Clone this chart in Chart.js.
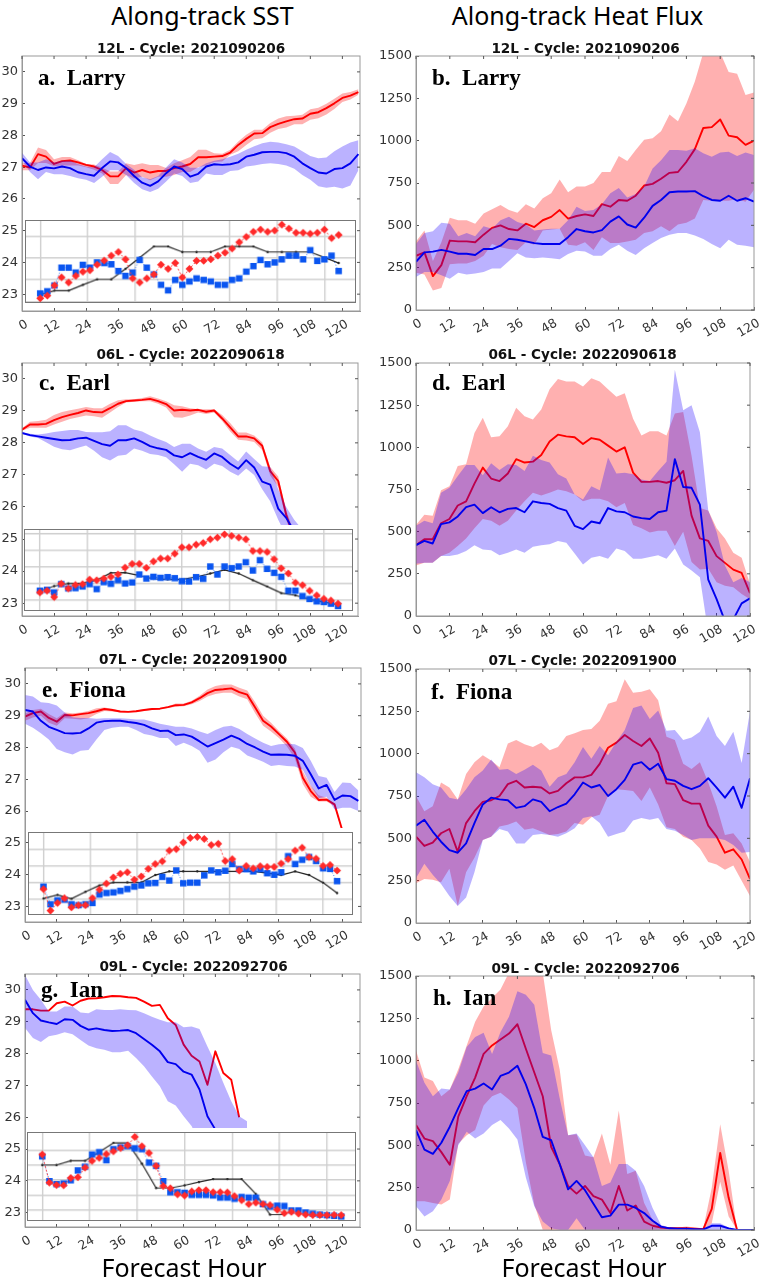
<!DOCTYPE html>
<html>
<head>
<meta charset="utf-8">
<title>Along-track SST and Heat Flux</title>
<script src="https://cdn.jsdelivr.net/npm/chart.js@4/dist/chart.umd.min.js"></script>
<style>
  html, body { margin: 0; padding: 0; background: #fff; }
  #page { position: relative; width: 761px; height: 1280px; overflow: hidden; }
  canvas { position: absolute; }
  .inset { border: 1.5px solid #777; background: #fff; box-shadow: 0 -4px 0 0 #fff; }
  .txt { position: absolute; white-space: pre; color: #000; z-index: 5; }
  .head { font: 25px "Noto Sans"; transform: translate(-50%, -50%); }
  .title { font: bold 13.6px "DejaVu Sans"; color: #111; transform: translate(-50%, -50%); }
  .name { font: bold 23px "Liberation Serif"; transform: translateY(-50%); }
</style>
</head>
<body>
<div id="page"></div>
<script>
const hoursMain = [0,3,6,9,12,15,18,21,24,27,30,33,36,39,42,45,48,51,54,57,60,63,66,69,72,75,78,81,84,87,90,93,96,99,102,105,108,111,114,117,120,123,126];
const hoursBlack = [0,6,12,18,24,30,36,42,48,54,60,66,72,78,84,90,96,102,108,114,120,126];

// a. Larry SST
const aRed = [27.05,26.99,27.41,27.33,27.10,27.19,27.21,27.15,27.07,27.02,26.91,26.71,26.71,26.97,26.83,26.91,26.83,26.88,26.88,26.97,27.02,27.10,27.31,27.31,27.33,27.35,27.46,27.70,27.89,28.06,28.07,28.26,28.36,28.44,28.51,28.53,28.68,28.73,28.86,29.01,29.18,29.25,29.36];
const aRedHi = [27.13,27.13,27.62,27.54,27.25,27.32,27.32,27.22,27.10,27.08,26.99,26.86,26.86,27.12,27.07,27.12,27.07,27.07,26.97,27.12,27.22,27.32,27.55,27.55,27.44,27.42,27.55,27.81,28.02,28.18,28.18,28.39,28.53,28.60,28.62,28.65,28.82,28.87,29.00,29.15,29.32,29.37,29.45];
const aRedLo = [26.90,26.90,27.13,27.13,27.03,27.05,27.05,27.05,27.00,26.92,26.80,26.47,26.47,26.75,26.64,26.70,26.59,26.70,26.70,26.75,26.85,26.85,27.00,27.05,27.16,27.18,27.39,27.50,27.70,27.88,27.91,28.08,28.20,28.25,28.35,28.35,28.49,28.54,28.66,28.83,29.05,29.13,29.28];
const aBlue = [27.28,27.02,26.91,26.99,26.96,27.02,26.97,26.84,26.78,26.73,26.97,27.18,27.15,26.97,26.72,26.51,26.41,26.55,26.81,27.02,26.94,26.70,26.79,27.02,27.09,27.07,27.09,27.15,27.33,27.39,27.47,27.48,27.48,27.44,27.33,27.12,26.97,26.83,26.80,26.94,26.97,27.12,27.41];
const aBlueHi = [27.45,27.15,27.15,27.25,27.15,27.20,27.20,27.10,27.02,27.00,27.25,27.48,27.35,27.10,26.92,26.68,26.62,26.72,27.00,27.25,27.15,26.98,26.98,27.12,27.20,27.25,27.33,27.42,27.55,27.66,27.75,27.80,27.78,27.72,27.65,27.50,27.35,27.28,27.30,27.50,27.65,27.78,27.85];
const aBlueLo = [27.20,26.85,26.62,26.85,26.78,26.78,26.72,26.65,26.60,26.50,26.70,26.90,26.90,26.75,26.50,26.30,26.22,26.32,26.55,26.80,26.72,26.50,26.55,26.80,26.75,26.75,26.88,26.90,27.02,27.05,27.10,27.12,27.10,27.05,26.95,26.75,26.60,26.40,26.35,26.38,26.33,26.42,26.90];
const aInRed = [22.84,22.93,23.26,23.52,23.36,23.57,23.71,23.75,23.94,24.07,24.23,24.35,24.11,23.49,23.36,23.49,23.62,23.94,23.80,23.99,23.52,23.80,24.06,24.06,24.11,24.23,24.33,24.46,24.67,24.84,25.01,25.08,25.01,25.05,25.24,25.11,24.98,24.98,24.95,24.98,25.08,24.80,24.91];
const aInBlue = [23.00,23.07,23.26,23.84,23.84,23.68,23.93,23.84,24.01,23.99,23.95,23.73,23.57,23.68,24.09,23.84,23.62,23.28,23.10,23.44,23.28,23.39,23.49,23.44,23.39,23.28,23.28,23.44,23.49,23.71,23.89,24.09,23.95,24.01,24.11,24.23,24.23,24.11,24.41,24.06,24.11,24.23,23.73];
const aInBlack = [22.95,23.09,23.09,23.28,23.46,23.46,23.80,24.17,24.53,24.53,24.35,24.35,24.35,24.53,24.53,24.53,24.35,24.35,24.35,24.35,24.17,23.99];

// b. Larry flux
const bRed = [320,340,200,265,410,405,405,400,445,485,500,478,470,510,490,530,550,590,540,555,565,555,625,610,650,645,675,735,745,775,810,815,875,950,1075,1080,1125,1030,1020,975,1000];
const bRedHi = [405,470,290,400,545,530,530,510,570,595,620,590,575,625,600,660,690,770,695,730,730,750,815,815,910,880,945,1005,1015,1055,1155,1115,1220,1350,1520,1520,1520,1405,1395,1270,1285];
const bRedLo = [220,210,115,130,270,275,275,290,320,390,370,360,355,400,385,470,475,480,385,380,400,355,430,395,395,405,415,455,465,495,465,505,515,540,650,645,645,645,655,640,710];
const bBlue = [285,340,345,355,345,332,332,325,360,360,380,420,415,405,395,390,390,390,430,478,465,458,472,522,553,505,487,545,615,650,695,700,700,702,672,650,645,675,645,660,640];
const bBlueHi = [390,455,465,515,510,435,455,435,495,480,530,550,520,505,470,475,480,480,530,610,585,590,625,690,720,665,685,730,835,885,945,945,940,955,925,905,930,935,910,930,915];
const bBlueLo = [195,225,225,205,185,220,210,215,225,245,245,290,335,310,305,310,305,300,330,350,345,320,320,360,385,350,325,365,395,425,445,455,455,440,420,390,365,415,385,380,370];

// c. Earl SST
const cRed = [28.41,28.57,28.57,28.59,28.71,28.80,28.87,28.93,29.01,28.96,28.95,29.08,29.22,29.30,29.32,29.34,29.37,29.30,29.21,29.01,29.03,29.01,29.03,28.97,29.01,28.76,28.48,28.20,28.20,28.14,27.91,27.12,26.81,25.76,25.00,24.20];
const cRedHi = [28.45,28.66,28.68,28.72,28.87,28.96,29.02,29.06,29.12,29.08,29.08,29.22,29.33,29.36,29.36,29.40,29.45,29.38,29.30,29.17,29.14,29.08,29.05,29.05,29.05,28.87,28.62,28.32,28.32,28.23,28.02,27.25,26.95,25.90,25.20,24.40];
const cRedLo = [28.38,28.47,28.47,28.47,28.57,28.66,28.74,28.80,28.85,28.83,28.78,28.95,29.12,29.26,29.28,29.30,29.30,29.22,29.10,28.80,28.78,28.85,28.95,28.90,28.95,28.68,28.35,28.10,28.07,28.03,27.78,26.98,26.62,25.60,24.90,24.00];
const cBlue = [28.31,28.24,28.20,28.16,28.12,28.08,28.09,28.14,28.16,28.06,27.96,27.91,28.08,28.08,28.14,28.03,27.90,27.83,27.78,27.61,27.55,27.68,27.56,27.47,27.67,27.56,27.35,27.19,27.46,27.23,26.79,26.70,25.95,25.66,25.24,24.60];
const cBlueHi = [28.33,28.28,28.26,28.29,28.34,28.37,28.40,28.40,28.34,28.33,28.33,28.36,28.55,28.55,28.42,28.35,28.23,28.12,28.03,27.87,27.97,27.97,27.82,27.72,27.87,27.82,27.62,27.42,27.73,27.50,27.27,27.25,26.55,26.00,25.60,25.30];
const cBlueLo = [28.28,28.20,28.15,28.02,27.88,27.80,27.77,27.85,27.92,27.75,27.55,27.45,27.60,27.63,27.82,27.75,27.65,27.62,27.55,27.33,27.10,27.35,27.30,27.17,27.35,27.28,27.10,26.97,27.20,27.00,26.55,26.18,25.60,25.10,24.80,24.50];
const cInRed = [23.24,23.29,23.10,23.50,23.36,23.47,23.49,23.63,23.61,23.66,23.71,23.78,23.99,24.10,24.10,23.98,24.17,24.26,24.26,24.41,24.60,24.60,24.68,24.73,24.84,24.89,24.99,24.94,24.89,24.84,24.49,24.49,24.46,24.24,23.97,23.81,23.53,23.46,23.29,23.15,23.05,23.00,22.90];
const cInBlue = [23.29,23.32,23.24,23.49,23.36,23.37,23.42,23.49,23.34,23.55,23.50,23.61,23.51,23.54,23.78,23.66,23.71,23.68,23.70,23.67,23.58,23.57,23.70,23.65,24.02,23.78,24.02,23.97,24.02,24.15,23.90,24.21,23.95,23.83,23.71,23.29,23.29,23.13,23.04,22.97,22.95,22.90,22.83];
const cInBlack = [23.29,23.43,23.51,23.52,23.61,23.83,23.84,23.75,23.65,23.63,23.63,23.71,23.81,23.92,23.81,23.61,23.42,23.22,23.15,23.03,22.95,22.87];

// d. Earl flux
const dRed = [420,455,455,550,575,655,680,785,880,815,800,845,930,910,915,955,1035,1075,1065,1060,1020,1055,1045,1010,975,1000,850,795,795,800,790,805,860,595,460,445,355,315,275,255,135];
const dRedHi = [540,600,595,745,770,890,900,1085,1175,1060,1065,1125,1235,1185,1165,1225,1345,1405,1390,1390,1360,1410,1390,1345,1300,1320,1170,1070,1095,1095,1070,1200,1210,950,640,625,520,460,375,345,190];
const dRedLo = [300,315,315,355,375,415,460,520,575,565,535,565,625,680,730,715,730,750,740,720,680,695,695,680,645,670,540,520,495,505,505,415,500,320,275,280,200,180,170,130,100];
const dBlue = [420,445,430,545,555,590,645,660,610,645,615,635,640,615,680,670,665,640,625,535,515,560,550,640,620,615,590,580,575,615,625,930,765,760,660,215,100,-30,-20,75,105];
const dBlueHi = [535,565,550,730,760,830,895,895,835,905,865,900,895,860,950,925,910,840,815,720,690,770,745,940,845,850,840,810,800,860,915,1460,1220,1250,1090,625,500,300,200,225,200];
const dBlueLo = [310,315,315,355,355,365,385,420,395,390,360,375,395,375,410,420,425,445,435,370,305,345,355,340,400,385,340,340,350,360,340,400,305,270,230,-100,-100,-100,-100,-100,-100];

// e. Fiona SST
const eRed = [28.97,29.08,29.13,28.93,28.81,29.02,29.01,29.05,29.08,29.14,29.21,29.18,29.13,29.12,29.14,29.18,29.21,29.22,29.27,29.33,29.34,29.42,29.55,29.71,29.81,29.83,29.86,29.74,29.66,29.26,28.84,28.66,28.42,28.18,27.84,27.05,26.63,26.35,26.36,26.21,25.37];
const eRedHi = [29.07,29.18,29.22,29.05,28.92,29.10,29.08,29.10,29.15,29.23,29.26,29.22,29.15,29.14,29.16,29.20,29.23,29.24,29.30,29.38,29.38,29.47,29.63,29.82,29.93,29.98,29.98,29.88,29.79,29.42,29.00,28.78,28.52,28.28,27.97,27.25,26.80,26.50,26.42,26.24,25.40];
const eRedLo = [28.84,28.94,29.00,28.78,28.68,28.92,28.90,28.88,28.92,29.05,29.15,29.13,29.10,29.10,29.12,29.15,29.18,29.20,29.24,29.28,29.30,29.36,29.46,29.60,29.68,29.72,29.72,29.60,29.52,29.08,28.68,28.50,28.30,28.03,27.65,26.85,26.45,26.30,26.30,26.15,25.30];
const eBlue = [29.18,29.13,28.84,28.65,28.55,28.45,28.44,28.46,28.60,28.78,28.83,28.84,28.84,28.80,28.77,28.71,28.60,28.52,28.53,28.39,28.41,28.34,28.19,28.03,28.14,28.25,28.37,28.27,28.11,28.00,27.87,27.77,27.78,27.77,27.74,27.58,27.16,26.71,26.82,26.35,26.49,26.47,26.32];
const eBlueHi = [29.65,29.60,29.42,29.40,29.32,29.10,28.95,28.93,28.93,28.90,28.92,28.92,28.92,28.90,28.88,28.88,28.82,28.75,28.70,28.65,28.65,28.60,28.50,28.42,28.55,28.65,28.68,28.58,28.42,28.28,28.15,28.05,28.10,28.12,28.10,27.98,27.58,27.10,27.05,26.60,26.90,26.88,26.65];
const eBlueLo = [28.75,28.62,28.45,28.25,27.95,27.85,27.78,27.90,27.92,28.25,28.55,28.62,28.65,28.65,28.55,28.42,28.38,28.30,28.30,28.05,28.15,28.05,27.90,27.52,27.62,27.85,28.02,27.95,27.75,27.65,27.55,27.42,27.45,27.42,27.40,27.30,26.80,26.40,26.45,26.05,26.10,26.10,26.00];
const eInRed = [23.53,22.82,23.07,23.23,22.93,23.00,23.00,23.23,23.51,23.71,23.91,24.03,24.08,23.84,23.94,24.19,24.35,24.44,24.79,24.84,25.06,25.21,25.24,25.18,24.98,25.02,24.45,24.51,24.14,24.29,24.21,24.28,24.26,24.26,24.37,24.51,24.79,24.89,24.58,24.53,24.29,24.32,24.14];
const eInBlue = [23.61,23.03,23.16,23.18,23.03,23.00,23.03,23.07,23.35,23.40,23.42,23.47,23.53,23.61,23.65,23.72,23.73,23.93,23.81,24.14,23.72,23.74,23.74,23.98,24.14,24.08,24.13,24.35,24.18,24.18,24.11,24.18,24.05,24.00,24.08,24.61,24.35,24.49,24.58,24.45,24.21,24.19,23.79];
const eInBlack = [23.22,23.34,23.21,23.44,23.65,23.75,23.75,23.75,23.99,24.11,24.11,24.11,24.11,24.11,24.11,24.11,24.05,23.99,24.11,23.99,23.74,23.40];

// f. Fiona flux
const fRed = [510,455,475,530,555,420,590,660,715,725,750,820,840,800,805,800,765,780,825,860,860,875,940,1035,1065,1110,1075,1045,1090,1005,825,820,725,705,705,575,510,415,435,375,260];
const fRedHi = [750,660,690,830,800,730,880,950,990,960,920,1060,1080,1055,1040,1065,1020,1040,1105,1120,1140,1145,1195,1295,1310,1440,1360,1365,1380,1315,1100,1080,940,910,950,830,690,520,530,470,360];
const fRedLo = [235,260,255,240,320,100,300,385,490,510,570,580,600,550,560,540,520,525,540,590,580,625,640,750,790,785,780,720,800,700,565,555,510,490,440,360,345,315,340,250,160];
const fBlue = [575,610,540,480,430,415,470,590,700,740,730,725,680,690,730,715,660,685,705,760,830,800,815,750,790,845,935,950,905,940,850,840,810,790,810,855,800,740,805,680,855];
const fBlueHi = [890,860,820,800,740,730,790,860,900,965,905,910,880,905,935,900,805,860,880,950,1040,970,1045,990,1070,1140,1270,1285,1205,1255,1135,1140,1080,1095,1130,1220,1105,1045,1130,945,1250];
const fBlueLo = [265,350,285,230,160,100,150,300,490,510,555,540,470,470,520,525,520,510,530,560,620,630,590,510,525,540,605,620,610,620,555,545,520,490,500,500,500,490,460,415,420];

// g. Ian SST
const gRed = [29.39,29.39,29.35,29.35,29.58,29.63,29.51,29.66,29.73,29.74,29.77,29.81,29.80,29.77,29.75,29.63,29.50,29.53,29.11,28.90,28.28,27.93,27.75,27.02,28.07,27.39,27.18,26.00];
const gBlue = [29.69,29.27,29.04,28.98,28.93,29.08,29.06,28.87,28.75,28.79,28.74,28.71,28.72,28.74,28.64,28.46,28.28,28.07,27.73,27.67,27.43,27.34,26.87,26.03,25.61,25.00];
const gBlueHi = [30.47,30.00,29.69,29.32,29.32,29.48,29.48,29.29,29.27,29.39,29.37,29.37,29.39,29.37,29.36,29.27,29.16,29.06,28.98,28.98,28.83,28.85,28.77,28.22,27.70,27.08,26.50,26.03,25.87];
const gBlueLo = [28.80,28.49,28.36,28.54,28.59,28.67,28.61,28.43,28.25,28.17,28.12,28.04,28.04,28.09,27.86,27.60,27.28,26.97,26.50,26.37,26.03,25.72,25.20,24.50,24.20,24.00,23.60,23.30,23.00];
const gInRed = [24.85,23.91,23.83,23.82,24.07,24.09,24.41,24.64,24.74,24.87,24.96,25.06,25.16,25.44,25.13,24.90,24.47,23.80,23.72,23.52,23.48,23.62,23.66,23.66,23.59,23.59,23.58,23.46,23.32,23.19,23.24,23.19,23.16,23.00,22.89,22.93,22.87,22.84,22.82,22.82,22.82,22.83,22.82];
const gInBlue = [24.79,23.96,23.86,23.88,23.99,24.32,24.44,24.85,24.93,24.66,25.03,25.09,25.13,25.06,25.03,24.58,24.47,23.96,23.59,23.59,23.57,23.50,23.50,23.50,23.48,23.41,23.41,23.37,23.43,23.41,23.41,23.19,23.11,23.14,23.13,22.98,22.98,22.91,22.87,22.84,22.82,22.80,22.78];
const gInBlack = [24.50,24.50,24.64,24.64,24.93,25.24,25.24,24.55,23.73,23.73,23.82,23.93,24.03,24.03,24.03,23.53,22.84,22.84];

// h. Ian flux
const hRed = [620,540,525,460,385,670,790,900,1040,1090,1125,1160,1215,1070,930,790,490,390,260,215,260,200,180,100,260,115,145,50,25,15,10,10,10,8,5,125,455,190,0,0,0];
const hRedHi = [1060,900,880,790,830,950,1090,1230,1320,1370,1420,1520,1520,1520,1520,1520,1180,950,560,565,440,430,570,385,705,330,350,160,60,25,15,15,20,15,10,250,625,350,0,0,0];
const hRedLo = [170,170,160,150,180,510,560,590,735,790,810,770,720,400,150,0,-20,0,0,0,0,0,0,0,0,0,0,0,0,0,0,0,0,0,0,40,285,80,0,0,0];
const hBlue = [590,475,450,515,610,720,820,835,865,830,910,930,970,860,720,550,530,390,240,290,235,155,75,85,150,150,130,100,55,20,10,8,8,5,3,25,25,10,0,0,0];
const hBlueHi = [1000,870,790,835,830,930,1080,1140,1165,1040,1170,1260,1410,1390,1330,1045,1030,780,560,570,500,430,260,280,390,390,350,260,130,30,15,10,10,5,5,40,40,15,0,0,0];
const hBlueLo = [140,80,110,180,290,500,580,540,570,620,650,600,535,310,140,50,10,0,0,70,0,0,0,0,0,0,0,0,0,0,0,0,0,0,0,0,0,0,0,0,0];

const insetGridHours = [0,20,40,60,80,100,120];
const aInGrid = [24.87,24.17,23.45,22.74];
const cInGrid = [25,24.5,24,23.5,23];
const eInGrid = [24.84,24.29,23.75,23.21];
const gInGrid = [25,24.5,24,23.5,23];

Chart.defaults.font.family = '"DejaVu Sans"';
Chart.defaults.animation = false;

const page = document.getElementById('page');
const LABEL_W_SST = 22, LABEL_W_FLUX = 36, PAD_TOP = 10, PAD_RIGHT = 12, LABEL_H = 32;

function addCanvas(left, top, w, h, cls) {
    const c = document.createElement('canvas');
    c.width = w; c.height = h;
    c.style.left = left + 'px';
    c.style.top = top + 'px';
    if (cls) c.className = cls;
    page.appendChild(c);
    return c;
}

function addText(cls, text, x, y) {
    const d = document.createElement('div');
    d.className = 'txt ' + cls;
    d.textContent = text;
    d.style.left = x + 'px';
    d.style.top = y + 'px';
    page.appendChild(d);
}

const xy = (ys, xs) => ys.map((y, i) => ({ x: xs[i], y }));

// frame on top/right plus the little ticks there
const framePlugin = {
    id: 'frame',
    afterDraw(chart) {
        const { ctx, chartArea: a, scales } = chart;
        ctx.save();
        ctx.strokeStyle = '#999';
        ctx.lineWidth = 1;
        ctx.strokeRect(a.left, a.top, a.right - a.left, a.bottom - a.top);
        ctx.strokeStyle = '#555';
        ctx.beginPath();
        scales.x.ticks.forEach(t => {
            const p = scales.x.getPixelForValue(t.value);
            ctx.moveTo(p, a.top); ctx.lineTo(p, a.top + 3);
        });
        scales.y.ticks.forEach(t => {
            const p = scales.y.getPixelForValue(t.value);
            ctx.moveTo(a.right, p); ctx.lineTo(a.right - 3, p);
        });
        ctx.stroke();
        ctx.restore();
    }
};

// lineWidth 0 is ignored by canvas, so the edge has to be transparent too
function bandSets(hi, lo, color, order) {
    const edge = { borderWidth: 0, borderColor: 'transparent', pointRadius: 0, order };
    return [
        { data: xy(hi, hoursMain), ...edge, fill: '+1', backgroundColor: color },
        { data: xy(lo, hoursMain), ...edge, fill: false }
    ];
}

function lineSet(vals, color, order) {
    return { data: xy(vals, hoursMain), borderColor: color, borderWidth: 1.9, pointRadius: 0, fill: false, order, borderJoinStyle: 'round' };
}

function mainChart(p, s) {
    const labelW = p.flux ? LABEL_W_FLUX : LABEL_W_SST;
    const w = p.right - p.left, h = p.bottom - p.top;
    const canvas = addCanvas(p.left - labelW, p.top - PAD_TOP, labelW + w + PAD_RIGHT, PAD_TOP + h + LABEL_H);
    const datasets = [];
    if (s.redHi) datasets.push(...bandSets(s.redHi, s.redLo, 'rgba(255,0,0,0.31)', 3));
    datasets.push(lineSet(s.red, '#ff0000', 2));
    datasets.push(...bandSets(s.blueHi, s.blueLo, 'rgba(30,0,255,0.3)', 1));
    datasets.push(lineSet(s.blue, '#0000ee', 0));
    new Chart(canvas, {
        type: 'line',
        data: { datasets },
        plugins: [framePlugin],
        options: {
            responsive: false,
            layout: { autoPadding: false, padding: { top: PAD_TOP, right: PAD_RIGHT, left: 0, bottom: 0 } },
            plugins: { legend: { display: false }, tooltip: { enabled: false } },
            scales: {
                x: {
                    type: 'linear', min: 0, max: p.xMax,
                    grid: { drawOnChartArea: false, tickLength: -3, color: '#555' },
                    border: { color: '#999' },
                    ticks: { stepSize: 12, includeBounds: false, autoSkip: false, minRotation: 30, maxRotation: 30, padding: 9, labelOffset: 5, font: { size: 12.5 }, color: '#333', callback: v => String(v) },
                    afterFit(a) { a.height = LABEL_H; a.paddingLeft = 0; a.paddingRight = 0; }
                },
                y: {
                    min: p.yMin, max: p.yMax,
                    grid: { drawOnChartArea: false, tickLength: -3, color: '#555' },
                    border: { color: '#999' },
                    ticks: { stepSize: p.flux ? 250 : 1, includeBounds: false, padding: 7, font: { size: 13 }, color: '#333', callback: v => String(v) },
                    afterFit(a) { a.width = labelW; a.paddingTop = 0; a.paddingBottom = 0; }
                }
            }
        }
    });
}

function insetChart(b, s) {
    const canvas = addCanvas(b.left, b.top, b.right - b.left, b.bottom - b.top, 'inset');
    const dotted = { borderWidth: 1, fill: false };
    new Chart(canvas, {
        type: 'line',
        data: {
            datasets: [
                { data: xy(s.red, hoursMain), ...dotted, borderColor: '#ff3b3b', borderDash: [2, 2], pointStyle: 'rectRot', pointRadius: 4, pointBackgroundColor: '#ff2a2a', pointBorderWidth: 0, order: 0 },
                { data: xy(s.blue, hoursMain), ...dotted, borderColor: '#3a78f0', borderDash: [1, 2], pointStyle: 'rect', pointRadius: 4.6, pointBackgroundColor: '#0a55f0', pointBorderWidth: 0, order: 1 },
                { data: xy(s.black, hoursBlack), borderColor: '#222', borderWidth: 1.2, fill: false, pointRadius: 1.2, pointBackgroundColor: '#222', pointBorderWidth: 0, order: 2 }
            ]
        },
        options: {
            responsive: false,
            layout: { autoPadding: false, padding: 0 },
            plugins: { legend: { display: false }, tooltip: { enabled: false } },
            scales: {
                x: {
                    type: 'linear', min: b.xMin, max: b.xMax,
                    grid: { color: '#cfcfcf', lineWidth: 1.4, drawTicks: false },
                    border: { display: false },
                    ticks: { display: false },
                    afterBuildTicks(a) { a.ticks = insetGridHours.map(value => ({ value })); },
                    afterFit(a) { a.height = 0; a.paddingLeft = 0; a.paddingRight = 0; }
                },
                y: {
                    min: b.yMin, max: b.yMax,
                    grid: { color: '#cfcfcf', lineWidth: 1.4, drawTicks: false },
                    border: { display: false },
                    ticks: { display: false },
                    afterBuildTicks(a) { a.ticks = s.grid.map(value => ({ value })); },
                    afterFit(a) { a.width = 0; a.paddingTop = 0; a.paddingBottom = 0; }
                }
            }
        }
    });
}

// a
mainChart({ left: 22.3, right: 361, top: 56, bottom: 311, xMax: 126.6, yMin: 22.47, yMax: 30.5 },
    { red: aRed, redHi: aRedHi, redLo: aRedLo, blue: aBlue, blueHi: aBlueHi, blueLo: aBlueLo });
insetChart({ left: 25, right: 356, top: 219.5, bottom: 303, xMin: -6, xMax: 132.9, yMin: 22.72, yMax: 25.36 },
    { red: aInRed, blue: aInBlue, black: aInBlack, grid: aInGrid });
// b
mainChart({ flux: true, left: 415.7, right: 754, top: 55.7, bottom: 310, xMax: 120, yMin: 0, yMax: 1500 },
    { red: bRed, redHi: bRedHi, redLo: bRedLo, blue: bBlue, blueHi: bBlueHi, blueLo: bBlueLo });
// c
mainChart({ left: 22.3, right: 359, top: 362.7, bottom: 616, xMax: 125.9, yMin: 22.6, yMax: 30.49 },
    { red: cRed, redHi: cRedHi, redLo: cRedLo, blue: cBlue, blueHi: cBlueHi, blueLo: cBlueLo });
insetChart({ left: 24, right: 353, top: 529, bottom: 611, xMin: -6.3, xMax: 131.9, yMin: 22.71, yMax: 25.12 },
    { red: cInRed, blue: cInBlue, black: cInBlack, grid: cInGrid });
// d
mainChart({ flux: true, left: 415.7, right: 750, top: 363.3, bottom: 617.3, xMax: 120, yMin: 0, yMax: 1500 },
    { red: dRed, redHi: dRedHi, redLo: dRedLo, blue: dBlue, blueHi: dBlueHi, blueLo: dBlueLo });
// e
mainChart({ left: 25, right: 361.7, top: 667.7, bottom: 921.7, xMax: 127, yMin: 22.51, yMax: 30.5 },
    { red: eRed, redHi: eRedHi, redLo: eRedLo, blue: eBlue, blueHi: eBlueHi, blueLo: eBlueLo });
insetChart({ left: 28.3, right: 354, top: 831.7, bottom: 915, xMin: -6.2, xMax: 132.4, yMin: 22.71, yMax: 25.37 },
    { red: eInRed, blue: eInBlue, black: eInBlack, grid: eInGrid });
// f
mainChart({ flux: true, left: 415.7, right: 750, top: 669.3, bottom: 923.3, xMax: 120, yMin: 0, yMax: 1500 },
    { red: fRed, redHi: fRedHi, redLo: fRedLo, blue: fBlue, blueHi: fBlueHi, blueLo: fBlueLo });
// g
mainChart({ left: 25, right: 360.7, top: 974.3, bottom: 1227.3, xMax: 126.7, yMin: 22.55, yMax: 30.5 },
    { red: gRed, blue: gBlue, blueHi: gBlueHi, blueLo: gBlueLo });
insetChart({ left: 26.7, right: 355.7, top: 1131.7, bottom: 1221, xMin: -6, xMax: 131.8, yMin: 22.66, yMax: 25.57 },
    { red: gInRed, blue: gInBlue, black: gInBlack, grid: gInGrid });
// h
mainChart({ flux: true, left: 416, right: 754, top: 976, bottom: 1230.3, xMax: 120, yMin: 0, yMax: 1500 },
    { red: hRed, redHi: hRedHi, redLo: hRedLo, blue: hBlue, blueHi: hBlueHi, blueLo: hBlueLo });

addText('head', 'Along-track SST', 202.5, 15);
addText('head', 'Along-track Heat Flux', 577.5, 15);
addText('head', 'Forecast Hour', 184, 1267);
addText('head', 'Forecast Hour', 584, 1267);

addText('title', '12L - Cycle: 2021090206', 191, 48);
addText('title', '12L - Cycle: 2021090206', 585.5, 48);
addText('title', '06L - Cycle: 2022090618', 190.5, 354);
addText('title', '06L - Cycle: 2022090618', 582.5, 354);
addText('title', '07L - Cycle: 2022091900', 193, 659);
addText('title', '07L - Cycle: 2022091900', 582.5, 660);
addText('title', '09L - Cycle: 2022092706', 193.5, 966);
addText('title', '09L - Cycle: 2022092706', 585.5, 968);

addText('name', 'a.  Larry', 38, 78);
addText('name', 'b.  Larry', 432, 78);
addText('name', 'c.  Earl', 39, 383);
addText('name', 'd.  Earl', 432, 383);
addText('name', 'e.  Fiona', 42, 690);
addText('name', 'f.  Fiona', 431, 692);
addText('name', 'g.  Ian', 41, 990);
addText('name', 'h.  Ian', 433, 998);
</script>
</body>
</html>
